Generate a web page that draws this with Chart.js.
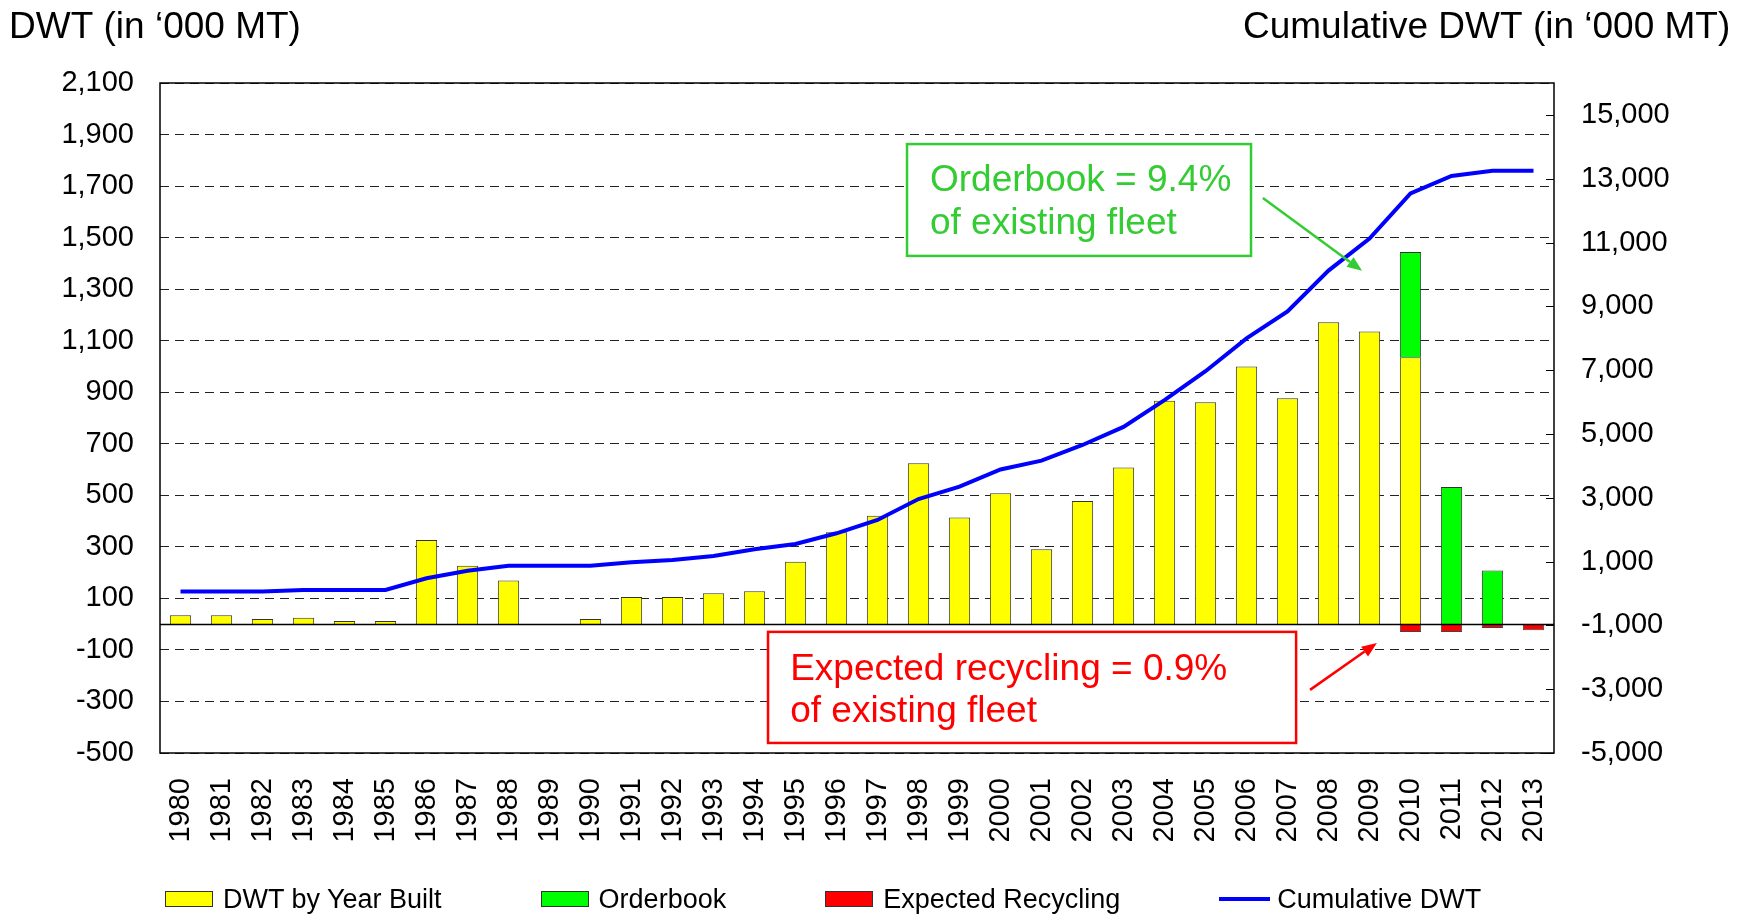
<!DOCTYPE html>
<html>
<head>
<meta charset="utf-8">
<script src="https://cdn.jsdelivr.net/npm/chart.js@4.4.1/dist/chart.umd.min.js"></script>
<style>
html,body{margin:0;padding:0;background:#fff;}
#wrap{position:relative;width:1752px;height:914px;overflow:hidden;background:#fff;}
#c{position:absolute;left:0;top:0;}
#legend{position:absolute;left:165px;top:880px;height:38px;display:flex;align-items:center;
  font-family:"Liberation Sans",Arial,sans-serif;font-size:27px;color:#000;white-space:nowrap;}
.item{display:flex;align-items:center;margin-right:99px;line-height:38px;}
.box{box-sizing:border-box;width:48px;height:16px;border:1px solid #333;margin-right:10px;}
.ln{width:51px;height:4px;margin-right:7px;}
</style>
</head>
<body>
<div id="wrap">
<canvas id="c" width="1752" height="914"></canvas>
<div id="legend"></div>
</div>
<script>
// ---------- data ----------
const years = ['1980','1981','1982','1983','1984','1985','1986','1987','1988','1989',
  '1990','1991','1992','1993','1994','1995','1996','1997','1998','1999',
  '2000','2001','2002','2003','2004','2005','2006','2007','2008','2009',
  '2010','2011','2012','2013'];
const dwtByYearBuilt = [35,35,20,25,12,12,327,227,169,0,
  20,105,105,120,128,242,357,421,624,414,
  508,291,478,608,867,861,1000,877,1172,1136,
  1036,null,null,null];
const orderbook = [null,null,null,null,null,null,null,null,null,null,
  null,null,null,null,null,null,null,null,null,null,
  null,null,null,null,null,null,null,null,null,null,
  408,532,208,null];
const expectedRecycling = [null,null,null,null,null,null,null,null,null,null,
  null,null,null,null,null,null,null,null,null,null,
  null,null,null,null,null,null,null,null,null,null,
  -30,-30,-15,-24];
const cumulativeDWT = [60,60,60,110,110,110,476,714,871,871,
  871,977,1050,1175,1385,1551,1886,2303,2961,3347,
  3886,4163,4654,5222,6060,6966,7995,8843,10120,11126,
  12536,13085,13251,13251];
const leftTicks = [-500,-300,-100,100,300,500,700,900,1100,1300,1500,1700,1900,2100];
const rightTicks = [-5000,-3000,-1000,1000,3000,5000,7000,9000,11000,13000,15000];

// ---------- styling ----------
const FONT = '"Liberation Sans", Arial, sans-serif';
Chart.defaults.font.family = FONT;
Chart.defaults.color = '#000';

const notes = [
  {color:'#33cc33', x0:17.72, x1:26.11, y0:1863, y1:1429, tx:18.28,
   lines:[['Orderbook = 9.4%',1681],['of existing fleet',1514]],
   arrow:[26.40,1654,28.82,1371]},
  {color:'#ff0000', x0:14.33, x1:27.21, y0:-30, y1:-461, tx:14.87,
   lines:[['Expected recycling = 0.9%',-217],['of existing fleet',-380]],
   arrow:[27.55,-255,29.18,-73]}
];

const fmt = v => Number(v).toLocaleString('en-US');

const decor = {
  id:'decor',
  beforeDraw(chart){
    const ctx = chart.ctx;
    ctx.save();
    ctx.fillStyle = '#000';
    ctx.font = '37px ' + FONT;
    ctx.textBaseline = 'alphabetic';
    ctx.textAlign = 'left';
    ctx.fillText('DWT (in \u2018000 MT)', 9, 38);
    ctx.fillText('Cumulative DWT (in \u2018000 MT)', 1243, 38);
    ctx.restore();
  },
  afterDatasetsDraw(chart){
    const ctx = chart.ctx, a = chart.chartArea;
    const xs = chart.scales.x, ys = chart.scales.y, y1 = chart.scales.y1;
    ctx.save();
    // zero line
    const z = Math.round(ys.getPixelForValue(0)) + 0.5;
    ctx.strokeStyle = '#000'; ctx.lineWidth = 1.5;
    ctx.beginPath(); ctx.moveTo(a.left, z); ctx.lineTo(a.right, z); ctx.stroke();
    // frame
    ctx.lineWidth = 1.5;
    ctx.strokeRect(a.left, a.top, a.right - a.left, a.bottom - a.top);
    // right axis inner tick marks
    ctx.lineWidth = 1;
    rightTicks.forEach(v => {
      const p = Math.round(y1.getPixelForValue(v)) + 0.5;
      ctx.beginPath(); ctx.moveTo(a.right - 8, p); ctx.lineTo(a.right, p); ctx.stroke();
    });
    // annotations
    const step = xs.getPixelForValue(1) - xs.getPixelForValue(0);
    const X = i => xs.getPixelForValue(0) + i * step;
    const Y = v => ys.getPixelForValue(v);
    notes.forEach(n => {
      const l = X(n.x0), r = X(n.x1), t = Y(n.y0), b = Y(n.y1);
      ctx.fillStyle = '#fff';
      ctx.fillRect(l, t, r - l, b - t);
      ctx.strokeStyle = n.color; ctx.lineWidth = 2.5;
      ctx.strokeRect(l, t, r - l, b - t);
      ctx.fillStyle = n.color;
      ctx.font = '37px ' + FONT;
      ctx.textAlign = 'left'; ctx.textBaseline = 'alphabetic';
      n.lines.forEach(([txt, v]) => ctx.fillText(txt, X(n.tx), Y(v)));
      const [ax0, ay0, ax1, ay1] = n.arrow;
      const x0 = X(ax0), yy0 = Y(ay0), x1 = X(ax1), yy1 = Y(ay1);
      const ang = Math.atan2(yy1 - yy0, x1 - x0);
      const hl = 15, hw = 6;
      const bx = x1 - hl * Math.cos(ang), by = yy1 - hl * Math.sin(ang);
      ctx.lineWidth = 2.5;
      ctx.beginPath(); ctx.moveTo(x0, yy0); ctx.lineTo(bx, by); ctx.stroke();
      ctx.beginPath();
      ctx.moveTo(x1, yy1);
      ctx.lineTo(bx + hw * Math.sin(ang), by - hw * Math.cos(ang));
      ctx.lineTo(bx - hw * Math.sin(ang), by + hw * Math.cos(ang));
      ctx.closePath(); ctx.fill();
    });
    ctx.restore();
  }
};

const chart = new Chart(document.getElementById('c'), {
  type:'bar',
  data:{
    labels: years,
    datasets:[
      {label:'DWT by Year Built', data: dwtByYearBuilt, backgroundColor:'#ffff00',
       borderColor:'#333', borderWidth:1, yAxisID:'y', order:1,
       barPercentage:0.52, categoryPercentage:1.0},
      {label:'Orderbook', data: orderbook, backgroundColor:'#00ff00',
       borderColor:'#333', borderWidth:1, yAxisID:'y', order:1,
       barPercentage:0.52, categoryPercentage:1.0},
      {label:'Expected Recycling', data: expectedRecycling, backgroundColor:'#ff0000',
       borderColor:'#444', borderWidth:1, yAxisID:'y', order:1,
       barPercentage:0.52, categoryPercentage:1.0},
      {type:'line', label:'Cumulative DWT', data: cumulativeDWT, borderColor:'#0000ff',
       backgroundColor:'#0000ff', borderWidth:4, pointRadius:0, tension:0,
       yAxisID:'y1', order:0, fill:false}
    ]
  },
  options:{
    responsive:false, animation:false, devicePixelRatio:1,
    layout:{padding:{top:83, left:0, right:0, bottom:0}},
    plugins:{legend:{display:false}, tooltip:{enabled:false}},
    scales:{
      x:{stacked:true, offset:true,
         grid:{display:false, drawTicks:false}, border:{display:false},
         ticks:{autoSkip:false, minRotation:90, maxRotation:90, padding:25,
                font:{size:29}, color:'#000'},
         afterFit(s){ s.height = 161; }},
      y:{stacked:true, position:'left', min:-500, max:2100,
         afterBuildTicks(s){ s.ticks = leftTicks.map(v => ({value:v})); },
         grid:{color:'#222', lineWidth:1, drawTicks:false},
         border:{display:false, dash:[9,6]},
         ticks:{padding:26, font:{size:29}, color:'#000', callback: v => fmt(v)},
         afterFit(s){ s.width = 160; }},
      y1:{position:'right', min:-5000, max:16000,
          afterBuildTicks(s){ s.ticks = rightTicks.map(v => ({value:v})); },
          grid:{drawOnChartArea:false, drawTicks:false}, border:{display:false},
          ticks:{padding:27, font:{size:29}, color:'#000', callback: v => fmt(v)},
          afterFit(s){ s.width = 198; }}
    }
  },
  plugins:[decor]
});

// HTML legend built from the chart's datasets
const leg = document.getElementById('legend');
chart.data.datasets.forEach(ds => {
  const it = document.createElement('div'); it.className = 'item';
  const sw = document.createElement('div');
  if (ds.type === 'line') { sw.className = 'ln'; sw.style.background = ds.borderColor; }
  else { sw.className = 'box'; sw.style.background = ds.backgroundColor; }
  const tx = document.createElement('span'); tx.textContent = ds.label;
  it.appendChild(sw); it.appendChild(tx); leg.appendChild(it);
});
</script>
</body>
</html>
